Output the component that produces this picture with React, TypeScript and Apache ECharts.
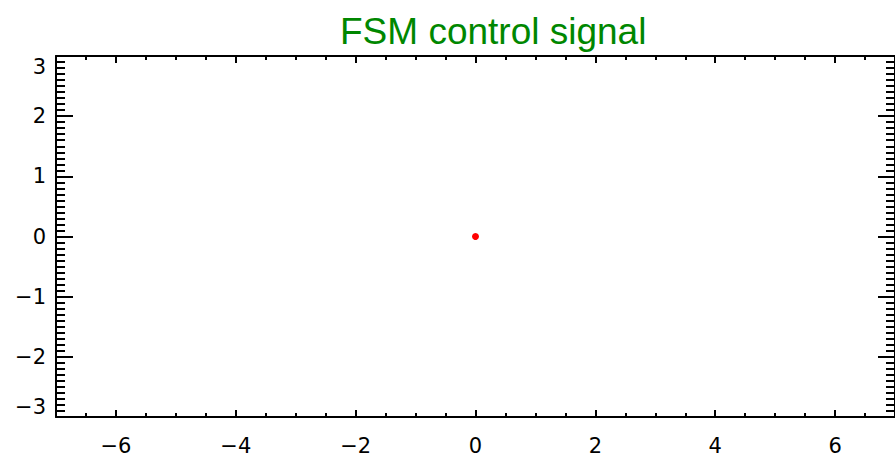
import React, { useEffect, useRef } from "react";
import * as echarts from "echarts";

const titleText = "FSM control signal";
const xRange = [-7, 7];
const yRange = [-3, 3];
const xMajorTicks = [-6, -4, -2, 0, 2, 4, 6];
const xMinorStep = 0.5;
const yMajorStep = 1;
const pointX = [0];
const pointY = [0];

const FONT = "'Liberation Sans', Arial, Helvetica, sans-serif";
const LABEL_FONT = "'DejaVu Sans', sans-serif";
const fmt = (v: number) => String(v).replace("-", "\u2212");

export default function App() {
  const ref = useRef<HTMLDivElement>(null);
  useEffect(() => {
    if (!ref.current) return;
    const chart = echarts.init(ref.current, null, { renderer: "svg" });
    const black = "#000";
    const minorX = (position: "top" | "bottom") => ({
      type: "value",
      position,
      min: xRange[0],
      max: xRange[1],
      interval: xMinorStep,
      splitLine: { show: false },
      axisLine: { show: true, onZero: false, lineStyle: { color: black, width: 2 } },
      axisTick: { show: true, inside: true, length: 4, lineStyle: { color: black, width: 2 } },
      axisLabel: { show: false },
    });
    const majorX = (position: "top" | "bottom", labels: boolean) => ({
      type: "value",
      position,
      min: xRange[0],
      max: xRange[1],
      splitLine: { show: false },
      axisLine: { show: false, onZero: false },
      axisTick: {
        show: true,
        inside: true,
        length: 7,
        customValues: xMajorTicks,
        lineStyle: { color: black, width: 2 },
      },
      axisLabel: {
        show: labels,
        customValues: xMajorTicks,
        formatter: fmt,
        fontSize: 21,
        fontFamily: LABEL_FONT,
        color: black,
        margin: 18,
      },
    });
    const yAx = (position: "left" | "right", labels: boolean) => ({
      type: "value",
      position,
      min: yRange[0],
      max: yRange[1],
      interval: yMajorStep,
      splitLine: { show: false },
      axisLine: { show: true, onZero: false, lineStyle: { color: black, width: 2 } },
      axisTick: { show: true, inside: true, length: 17, lineStyle: { color: black, width: 2 } },
      minorTick: { show: true, splitNumber: 10, length: 9, lineStyle: { color: black, width: 2 } },
      axisLabel: {
        show: labels,
        formatter: fmt,
        fontSize: 21,
        fontFamily: LABEL_FONT,
        color: black,
        margin: 10,
        verticalAlignMaxLabel: "top",
        verticalAlignMinLabel: "bottom",
      },
    });
    chart.setOption({
      animation: false,
      backgroundColor: "#fff",
      title: {
        text: titleText,
        left: 335,
        top: 8,
        textStyle: { color: "rgb(0,135,0)", fontSize: 37, fontWeight: "normal", fontFamily: FONT, lineHeight: 37 },
      },
      grid: { left: 56, right: -2, top: 56, bottom: 39, containLabel: false },
      xAxis: [minorX("bottom"), majorX("bottom", true), minorX("top"), majorX("top", false)],
      yAxis: [yAx("left", true), yAx("right", false)],
      series: [
        {
          type: "scatter",
          xAxisIndex: 0,
          yAxisIndex: 0,
          symbol: "circle",
          symbolSize: 7,
          itemStyle: { color: "#ff0000", opacity: 1 },
          data: pointX.map((x, i) => [x, pointY[i]]),
        },
      ],
    });
    return () => chart.dispose();
  }, []);
  return (
    <div
      ref={ref}
      style={{ position: "fixed", left: 0, top: 0, width: 895, height: 456 }}
    />
  );
}
